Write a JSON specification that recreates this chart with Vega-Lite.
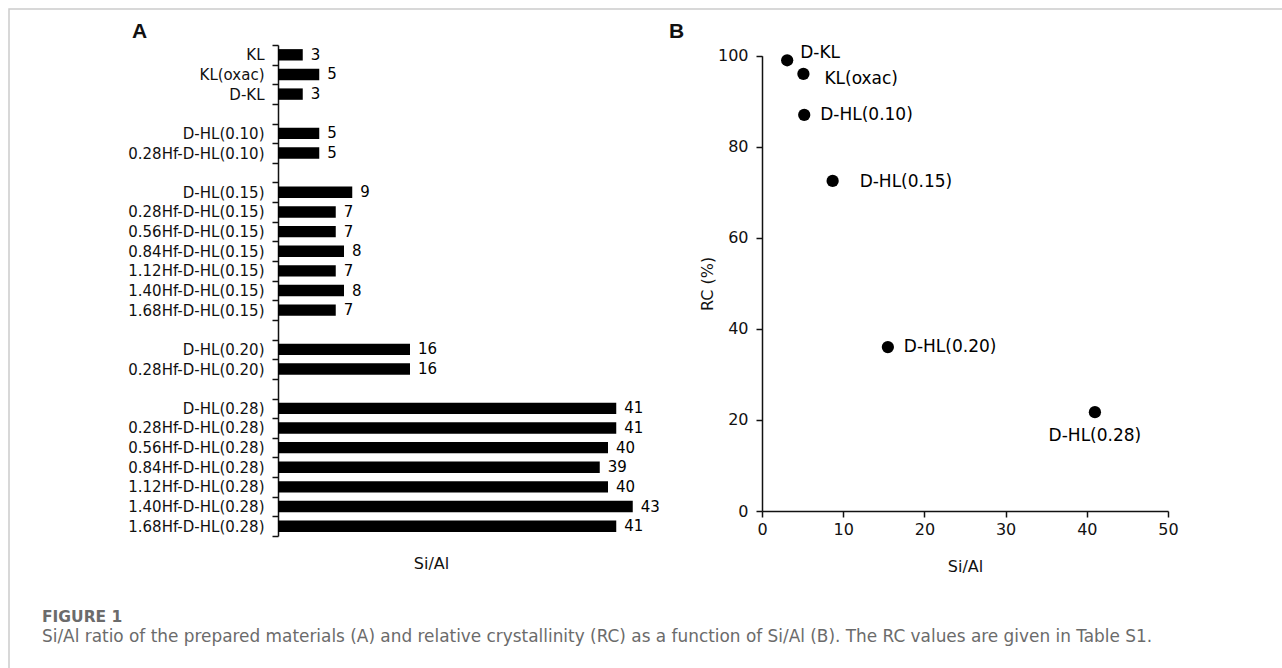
{
  "$schema": "https://vega.github.io/schema/vega-lite/v6.json",
  "width": 1276,
  "height": 662,
  "autosize": {"type": "none"},
  "padding": {"left": 9, "top": 9, "right": -3, "bottom": -3},
  "background": "white",
  "config": {
    "view": {"stroke": "#cccccc", "strokeWidth": 1.5},
    "font": "DejaVu Sans",
    "axis": {
      "grid": false,
      "domainColor": "#111111",
      "domainWidth": 1.5,
      "tickColor": "#111111",
      "tickWidth": 1.5,
      "tickSize": 6,
      "labelColor": "#111111",
      "titleColor": "#111111",
      "labelFont": "DejaVu Sans",
      "titleFont": "DejaVu Sans",
      "titleFontWeight": "normal",
      "labelFlush": false,
      "labelOverlap": false
    }
  },
  "title": {
    "text": "FIGURE 1",
    "subtitle": "Si/Al ratio of the prepared materials (A) and relative crystallinity (RC) as a function of Si/Al (B). The RC values are given in Table S1.",
    "orient": "bottom",
    "anchor": "start",
    "frame": "group",
    "offset": -61,
    "dx": 33,
    "font": "DejaVu Sans",
    "fontSize": 15.5,
    "fontWeight": "bold",
    "color": "#6b6b6b",
    "subtitleFont": "DejaVu Sans",
    "subtitleFontSize": 16.9,
    "subtitleColor": "#6b6b6b",
    "subtitlePadding": 3
  },
  "datasets": {
    "siAl": [
      {"sample": "KL", "siAl": 3},
      {"sample": "KL(oxac)", "siAl": 5},
      {"sample": "D-KL", "siAl": 3},
      {"sample": "D-HL(0.10)", "siAl": 5},
      {"sample": "0.28Hf-D-HL(0.10)", "siAl": 5},
      {"sample": "D-HL(0.15)", "siAl": 9},
      {"sample": "0.28Hf-D-HL(0.15)", "siAl": 7},
      {"sample": "0.56Hf-D-HL(0.15)", "siAl": 7},
      {"sample": "0.84Hf-D-HL(0.15)", "siAl": 8},
      {"sample": "1.12Hf-D-HL(0.15)", "siAl": 7},
      {"sample": "1.40Hf-D-HL(0.15)", "siAl": 8},
      {"sample": "1.68Hf-D-HL(0.15)", "siAl": 7},
      {"sample": "D-HL(0.20)", "siAl": 16},
      {"sample": "0.28Hf-D-HL(0.20)", "siAl": 16},
      {"sample": "D-HL(0.28)", "siAl": 41},
      {"sample": "0.28Hf-D-HL(0.28)", "siAl": 41},
      {"sample": "0.56Hf-D-HL(0.28)", "siAl": 40},
      {"sample": "0.84Hf-D-HL(0.28)", "siAl": 39},
      {"sample": "1.12Hf-D-HL(0.28)", "siAl": 40},
      {"sample": "1.40Hf-D-HL(0.28)", "siAl": 43},
      {"sample": "1.68Hf-D-HL(0.28)", "siAl": 41}
    ],
    "rc": [
      {"sample": "D-KL", "siAl": 3.1, "rc": 99},
      {"sample": "KL(oxac)", "siAl": 5.1, "rc": 96},
      {"sample": "D-HL(0.10)", "siAl": 5.2, "rc": 87},
      {"sample": "D-HL(0.15)", "siAl": 8.7, "rc": 72.5},
      {"sample": "D-HL(0.20)", "siAl": 15.5, "rc": 36},
      {"sample": "D-HL(0.28)", "siAl": 41, "rc": 21.7}
    ]
  },
  "layer": [
    {
      "data": {"name": "siAl"},
      "resolve": {"axis": {"y": "independent"}},
      "layer": [
        {
          "mark": {"type": "bar", "color": "#000000", "height": {"band": 0.58}},
          "encoding": {
            "y": {
              "field": "sample",
              "type": "nominal",
              "sort": null,
              "scale": {
                "domain": ["KL", "KL(oxac)", "D-KL", " ", "D-HL(0.10)", "0.28Hf-D-HL(0.10)", "  ", "D-HL(0.15)", "0.28Hf-D-HL(0.15)", "0.56Hf-D-HL(0.15)", "0.84Hf-D-HL(0.15)", "1.12Hf-D-HL(0.15)", "1.40Hf-D-HL(0.15)", "1.68Hf-D-HL(0.15)", "   ", "D-HL(0.20)", "0.28Hf-D-HL(0.20)", "    ", "D-HL(0.28)", "0.28Hf-D-HL(0.28)", "0.56Hf-D-HL(0.28)", "0.84Hf-D-HL(0.28)", "1.12Hf-D-HL(0.28)", "1.40Hf-D-HL(0.28)", "1.68Hf-D-HL(0.28)"],
                "range": [36, 527],
                "paddingInner": 0,
                "paddingOuter": 0
              },
              "axis": {
                "orient": "left",
                "offset": -269,
                "tickBand": "extent",
                "labelFontSize": 15,
                "labelPadding": 8,
                "title": "A",
                "titleAngle": 0,
                "titleFont": "Liberation Sans",
                "titleFontSize": 21,
                "titleFontWeight": "bold",
                "titleAlign": "center",
                "titleBaseline": "middle",
                "titleX": -139,
                "titleY": 22
              }
            },
            "x": {
              "field": "siAl",
              "type": "quantitative",
              "scale": {"domain": [0, 45], "range": [269, 640.25], "nice": false, "zero": true},
              "axis": {
                "orient": "bottom",
                "offset": -135,
                "domain": false,
                "ticks": false,
                "labels": false,
                "title": "Si/Al",
                "titleFontSize": 16,
                "titleAlign": "center",
                "titleBaseline": "middle",
                "titleX": 422,
                "titleY": 27
              }
            }
          }
        },
        {
          "mark": {"type": "text", "align": "left", "baseline": "middle", "dx": 8, "fontSize": 15, "color": "#000000"},
          "encoding": {
            "y": {
              "field": "sample",
              "type": "nominal",
              "sort": null,
              "scale": {
                "domain": ["KL", "KL(oxac)", "D-KL", " ", "D-HL(0.10)", "0.28Hf-D-HL(0.10)", "  ", "D-HL(0.15)", "0.28Hf-D-HL(0.15)", "0.56Hf-D-HL(0.15)", "0.84Hf-D-HL(0.15)", "1.12Hf-D-HL(0.15)", "1.40Hf-D-HL(0.15)", "1.68Hf-D-HL(0.15)", "   ", "D-HL(0.20)", "0.28Hf-D-HL(0.20)", "    ", "D-HL(0.28)", "0.28Hf-D-HL(0.28)", "0.56Hf-D-HL(0.28)", "0.84Hf-D-HL(0.28)", "1.12Hf-D-HL(0.28)", "1.40Hf-D-HL(0.28)", "1.68Hf-D-HL(0.28)"],
                "range": [36, 527],
                "paddingInner": 0,
                "paddingOuter": 0
              },
              "axis": {
                "orient": "left",
                "offset": 0,
                "domain": false,
                "ticks": false,
                "labels": false,
                "title": "B",
                "titleAngle": 0,
                "titleFont": "Liberation Sans",
                "titleFontSize": 21,
                "titleFontWeight": "bold",
                "titleAlign": "center",
                "titleBaseline": "middle",
                "titleX": 667,
                "titleY": 22
              }
            },
            "x": {
              "field": "siAl",
              "type": "quantitative",
              "scale": {"domain": [0, 45], "range": [269, 640.25], "nice": false, "zero": true},
              "axis": {
                "orient": "bottom",
                "offset": -135,
                "domain": false,
                "ticks": false,
                "labels": false,
                "title": "Si/Al",
                "titleFontSize": 16,
                "titleAlign": "center",
                "titleBaseline": "middle",
                "titleX": 422,
                "titleY": 27
              }
            },
            "text": {"field": "siAl", "type": "quantitative"}
          }
        }
      ]
    },
    {
      "data": {"name": "rc"},
      "encoding": {
        "x": {
          "field": "siAl",
          "type": "quantitative",
          "scale": {"domain": [0, 50], "range": [753, 1159], "nice": false},
          "axis": {
            "orient": "bottom",
            "offset": -160,
            "values": [0, 10, 20, 30, 40, 50],
            "labelFontSize": 16,
            "labelPadding": 4,
            "title": "Si/Al",
            "titleFontSize": 16,
            "titlePadding": 21
          }
        },
        "y": {
          "field": "rc",
          "type": "quantitative",
          "scale": {"domain": [0, 100], "range": [502, 46.7], "nice": false},
          "axis": {
            "orient": "left",
            "offset": -753,
            "values": [0, 20, 40, 60, 80, 100],
            "labelFontSize": 16,
            "labelPadding": 8,
            "title": "RC (%)",
            "titleFontSize": 16,
            "titlePadding": 2
          }
        }
      },
      "layer": [
        {"mark": {"type": "point", "filled": true, "size": 150, "color": "#000000", "opacity": 1}},
        {
          "transform": [{"filter": "datum.sample === 'D-KL'"}],
          "mark": {"type": "text", "align": "left", "baseline": "middle", "dx": 13, "dy": -7, "fontSize": 17, "color": "#000000"},
          "encoding": {"text": {"field": "sample"}}
        },
        {
          "transform": [{"filter": "datum.sample === 'KL(oxac)'"}],
          "mark": {"type": "text", "align": "left", "baseline": "middle", "dx": 21, "dy": 5, "fontSize": 17, "color": "#000000"},
          "encoding": {"text": {"field": "sample"}}
        },
        {
          "transform": [{"filter": "datum.sample === 'D-HL(0.10)' || datum.sample === 'D-HL(0.20)'"}],
          "mark": {"type": "text", "align": "left", "baseline": "middle", "dx": 16, "fontSize": 17, "color": "#000000"},
          "encoding": {"text": {"field": "sample"}}
        },
        {
          "transform": [{"filter": "datum.sample === 'D-HL(0.15)'"}],
          "mark": {"type": "text", "align": "left", "baseline": "middle", "dx": 27, "dy": 1, "fontSize": 17, "color": "#000000"},
          "encoding": {"text": {"field": "sample"}}
        },
        {
          "transform": [{"filter": "datum.sample === 'D-HL(0.28)'"}],
          "mark": {"type": "text", "align": "center", "baseline": "middle", "dy": 24, "fontSize": 17, "color": "#000000"},
          "encoding": {"text": {"field": "sample"}}
        }
      ]
    }
  ],
  "resolve": {
    "scale": {"x": "independent", "y": "independent"},
    "axis": {"x": "independent", "y": "independent"}
  }
}
